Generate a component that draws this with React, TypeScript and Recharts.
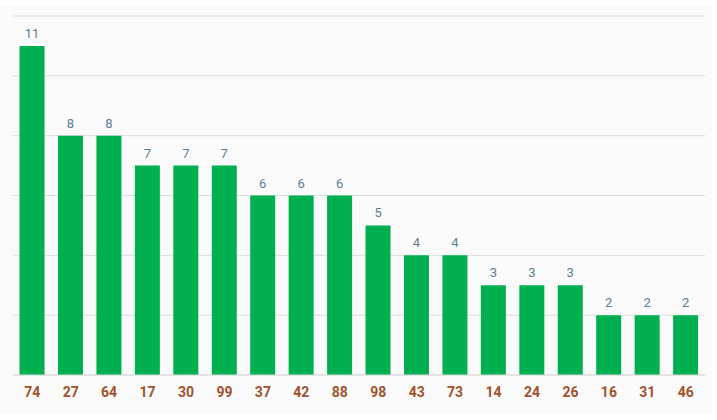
import React from 'react';
import { BarChart, Bar, XAxis, YAxis, CartesianGrid, LabelList } from 'recharts';

const categories = ['74', '27', '64', '17', '30', '99', '37', '42', '88', '98', '43', '73', '14', '24', '26', '16', '31', '46'];
const counts = [11, 8, 8, 7, 7, 7, 6, 6, 6, 5, 4, 4, 3, 3, 3, 2, 2, 2];
const yTicks = [0, 2, 4, 6, 8, 10, 12];

const data = categories.map((name, i) => ({ name, count: counts[i] }));

export default function App() {
  return (
    <div
      style={{
        position: 'absolute',
        left: 0,
        top: 6,
        width: 712,
        height: 408,
        background: '#fafafa',
        fontFamily: 'Roboto, sans-serif',
      }}
    >
      <BarChart
        width={712}
        height={408}
        data={data}
        margin={{ top: 10, right: 7, left: 13, bottom: 0 }}
        barCategoryGap="17%"
      >
        <CartesianGrid vertical={false} stroke="#dcdcdc" />
        <XAxis
          dataKey="name"
          height={39}
          axisLine={{ stroke: '#dcdcdc' }}
          tickLine={false}
          tickSize={6}
          tickMargin={6}
          tick={{ fill: '#a0522d', fontSize: 14, fontWeight: 'bold', fontFamily: 'Roboto' }}
          interval={0}
        />
        <YAxis hide domain={[0, 12]} ticks={yTicks} />
        <Bar dataKey="count" fill="#00b050" isAnimationActive={false}>
          <LabelList
            dataKey="count"
            position="top"
            offset={8}
            fill="#5b7f95"
            fontSize={13}
            fontFamily="Roboto"
          />
        </Bar>
      </BarChart>
    </div>
  );
}
